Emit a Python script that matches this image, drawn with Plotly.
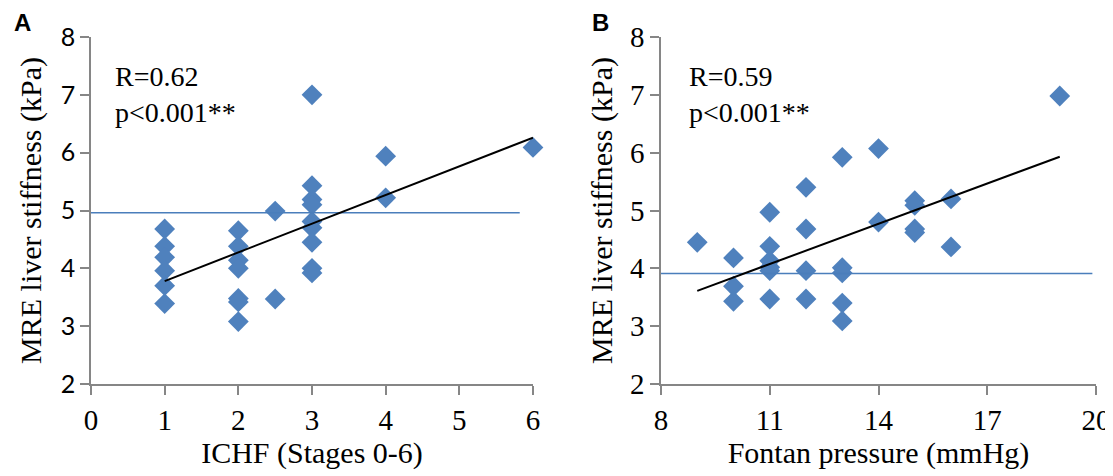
import plotly.graph_objects as go

# Panel A data: ICHF stage vs MRE liver stiffness
a_x = [1, 1, 1, 1, 1, 1, 2, 2, 2, 2, 2, 2, 2, 2.5, 2.5,
       3, 3, 3, 3, 3, 3, 3, 3, 3, 4, 4, 6]
a_y = [4.68, 4.38, 4.19, 3.96, 3.70, 3.39, 4.65, 4.38, 4.14, 4.00, 3.48, 3.42, 3.08, 4.99, 3.47,
       7.00, 5.43, 5.19, 5.10, 4.81, 4.70, 4.45, 4.00, 3.92, 5.94, 5.22, 6.09]
a_trend_x = [1, 6]
a_trend_y = [3.78, 6.26]
a_ref_x = [0, 5.82]
a_ref_y = [4.96, 4.96]

# Panel B data: Fontan pressure vs MRE liver stiffness
b_x = [9, 10, 10, 10, 11, 11, 11, 11, 11, 11, 12, 12, 12, 12, 13, 13, 13, 13, 13,
       14, 14, 15, 15, 15, 15, 16, 16, 19]
b_y = [4.45, 4.18, 3.69, 3.43, 4.97, 4.38, 4.13, 4.02, 3.96, 3.47, 5.40, 4.68, 3.96, 3.47,
       5.92, 4.01, 3.92, 3.40, 3.09, 6.07, 4.80, 5.17, 5.09, 4.68, 4.62, 5.20, 4.37, 6.98]
b_trend_x = [9, 19]
b_trend_y = [3.61, 5.93]
b_ref_x = [8, 19.9]
b_ref_y = [3.91, 3.91]

a_xticks = [0, 1, 2, 3, 4, 5, 6]
b_xticks = [8, 11, 14, 17, 20]
yticks = [2, 3, 4, 5, 6, 7, 8]

BLUE = "#4F81BD"
REF = "#4A7EBB"
AXC = "#868686"
SERIF = "Liberation Serif, Times New Roman, serif"
SANS = "Lato, Open Sans, sans-serif"

# page has an 8px body margin; figure sized to fit inside the window
OFF = 8
W, H = 1113 - OFF, 476 - OFF


def fx(px):
    return (px - OFF) / W


def fy(py):
    return 1 - (py - OFF) / H


fig = go.Figure()
for xs, ys, xa, ya in [(a_x, a_y, "x", "y"), (b_x, b_y, "x2", "y2")]:
    fig.add_trace(go.Scatter(x=xs, y=ys, mode="markers", xaxis=xa, yaxis=ya,
                             marker=dict(symbol="diamond", size=16, color=BLUE),
                             showlegend=False, cliponaxis=False))
for xs, ys, xa, ya in [(a_ref_x, a_ref_y, "x", "y"), (b_ref_x, b_ref_y, "x2", "y2")]:
    fig.add_trace(go.Scatter(x=xs, y=ys, mode="lines", xaxis=xa, yaxis=ya,
                             line=dict(color=REF, width=1.6), showlegend=False))
for xs, ys, xa, ya in [(a_trend_x, a_trend_y, "x", "y"), (b_trend_x, b_trend_y, "x2", "y2")]:
    fig.add_trace(go.Scatter(x=xs, y=ys, mode="lines", xaxis=xa, yaxis=ya,
                             line=dict(color="black", width=2), showlegend=False))

ydom = [fy(384), fy(37)]
axis_common = dict(showline=True, linecolor=AXC, linewidth=1.5, ticks="outside",
                   ticklen=9, tickcolor=AXC, tickwidth=1.5, showgrid=False, zeroline=False,
                   automargin=False)

fig.update_layout(
    width=W, height=H, margin=dict(l=0, r=0, t=0, b=0),
    paper_bgcolor="white", plot_bgcolor="white",
    xaxis=dict(domain=[fx(91), fx(533)], range=[0, 6], tickvals=a_xticks, anchor="y",
               tickfont=dict(family=SERIF, size=29, color="black"),
               title=dict(text="ICHF (Stages 0-6)", font=dict(family=SERIF, size=30, color="black"), standoff=4),
               **axis_common),
    yaxis=dict(domain=ydom, range=[2, 8], tickvals=yticks, anchor="x",
               tickfont=dict(family=SANS, size=25, color="black"),
               title=dict(text="MRE liver stiffness (kPa)", font=dict(family=SERIF, size=30, color="black"), standoff=10),
               **axis_common),
    xaxis2=dict(domain=[fx(661), fx(1096)], range=[8, 20], tickvals=b_xticks, anchor="y2",
                tickfont=dict(family=SERIF, size=29, color="black"),
                title=dict(text="Fontan pressure (mmHg)", font=dict(family=SERIF, size=30, color="black"), standoff=4),
                **axis_common),
    yaxis2=dict(domain=ydom, range=[2, 8], tickvals=yticks, anchor="x2",
                tickfont=dict(family=SERIF, size=29, color="black"),
                title=dict(text="MRE liver stiffness (kPa)", font=dict(family=SERIF, size=30, color="black"), standoff=8),
                **axis_common),
)

annots = [
    dict(text="R=0.62<br>p<0.001**", x=0.3, y=7.62, xref="x", yref="y"),
    dict(text="R=0.59<br>p<0.001**", x=8.72, y=7.62, xref="x2", yref="y2"),
]
for a in annots:
    fig.add_annotation(**a, xanchor="left", yanchor="top", align="left", showarrow=False,
                       font=dict(family=SERIF, size=28, color="black"))

for label, cx in [("A", 22), ("B", 600)]:
    fig.add_annotation(text="<b>" + label + "</b>", x=fx(cx), y=fy(8.5), xref="paper", yref="paper",
                       xanchor="center", yanchor="top", showarrow=False, borderpad=0,
                       font=dict(family="Liberation Sans, Arial, sans-serif", size=24, color="black"))

fig.write_html("out.html")
